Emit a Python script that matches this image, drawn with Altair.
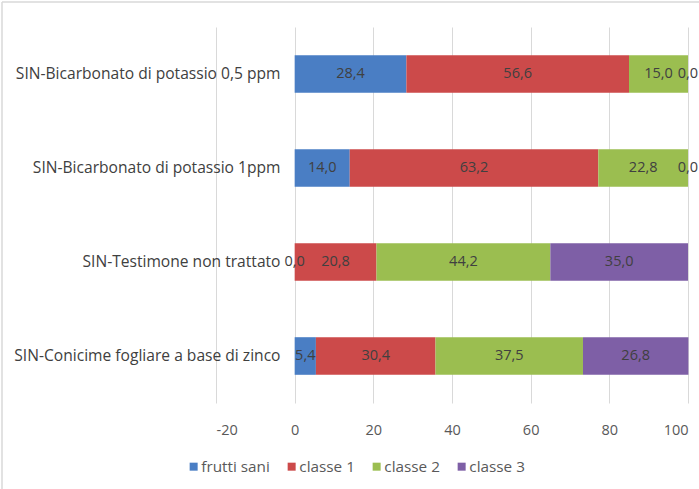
import altair as alt
import pandas as pd

# Treatments, top to bottom
treatments = [
    "SIN-Bicarbonato di potassio 0,5 ppm",
    "SIN-Bicarbonato di potassio 1ppm",
    "SIN-Testimone non trattato",
    "SIN-Conicime fogliare a base di zinco",
]
# Damage classes, stacked left to right
classes = ["frutti sani", "classe 1", "classe 2", "classe 3"]
colors = ["#4A7EC4", "#CC4A4A", "#9BBE50", "#7E5FA6"]

# Percentage of fruits in each class, one list per class
frutti_sani = [28.4, 14.0, 0.0, 5.4]
classe_1 = [56.6, 63.2, 20.8, 30.4]
classe_2 = [15.0, 22.8, 44.2, 37.5]
classe_3 = [0.0, 0.0, 35.0, 26.8]

series = [frutti_sani, classe_1, classe_2, classe_3]
rows = []
for ci, (cls, vals) in enumerate(zip(classes, series)):
    for ti, (t, v) in enumerate(zip(treatments, vals)):
        rows.append({
            "trattamento": t,
            "classe": cls,
            "ordine": ci,
            "valore": v,
            "etichetta": f"{v:.1f}".replace(".", ","),
        })
df = pd.DataFrame(rows)

FONT = "Open Sans"
FRAME = "#D9D9D9"

y_enc = alt.Y(
    "trattamento:N",
    sort=treatments,
    title=None,
    scale=alt.Scale(paddingInner=0.6, paddingOuter=0.3),
    axis=alt.Axis(
        offset=-78, domain=False, ticks=False, labelPadding=14,
        labelFontSize=15.6, labelColor="#404040", labelFont=FONT,
        labelLimit=400,
    ),
)

bars = alt.Chart(df).mark_bar().encode(
    x=alt.X(
        "valore:Q",
        stack="zero",
        title=None,
        scale=alt.Scale(domain=[-20, 100], nice=False),
        axis=alt.Axis(
            values=[-20, 0, 20, 40, 60, 80, 100],
            labelExpr="'' + datum.value",
            grid=True, gridColor=FRAME, domain=False, ticks=False,
            labelPadding=20, labelFontSize=14.5, labelColor="#595959",
            labelFont=FONT,
        ),
    ),
    y=y_enc,
    color=alt.Color(
        "classe:N",
        sort=classes,
        scale=alt.Scale(domain=classes, range=colors),
        legend=alt.Legend(
            title=None, orient="none", direction="horizontal",
            legendX=-30, legendY=432, symbolType="square", symbolSize=64,
            symbolStrokeWidth=0, labelFontSize=15.3, labelColor="#595959",
            labelFont=FONT, columnPadding=14, labelOffset=0,
        ),
    ),
    order=alt.Order("ordine:Q"),
)

labels = alt.Chart(df).mark_text(
    fontSize=14.5, color="#404040", font=FONT, align="center", baseline="middle"
).encode(
    x=alt.X("valore:Q", stack="zero", bandPosition=0.5),
    y=alt.Y("trattamento:N", sort=treatments),
    detail="classe:N",
    text="etichetta:N",
    order=alt.Order("ordine:Q"),
)

# light frame of the chart area (left and top edges)
frame_left = alt.Chart().mark_rule(color=FRAME, strokeWidth=1.5).encode(
    x=alt.value(-214), y=alt.value(-25), y2=alt.value(470)
)
frame_top = alt.Chart().mark_rule(color=FRAME, strokeWidth=1.5).encode(
    x=alt.value(-214), x2=alt.value(490), y=alt.value(-25)
)

chart = (
    alt.layer(bars, labels, frame_left, frame_top)
    .properties(
        width=472,
        height=376,
        autosize=alt.AutoSizeParams(type="none"),
        padding={"left": 216, "top": 27, "right": 11, "bottom": 86},
    )
    .configure_view(stroke=None)
)

chart.save("out.html", embed_options={"renderer": "svg", "actions": False})
